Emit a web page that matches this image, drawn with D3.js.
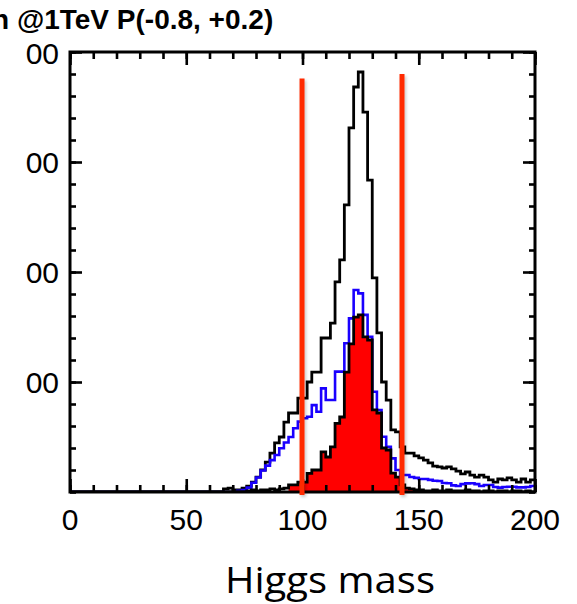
<!DOCTYPE html>
<html><head><meta charset="utf-8">
<script src="https://cdn.jsdelivr.net/npm/d3@7"></script>
<style>html,body{margin:0;padding:0;background:#fff;overflow:hidden}</style>
</head><body>
<svg id="c" width="577" height="604"></svg>
<script>
// ---- data (2 GeV bins, 0..200) ----
const binWidth = 2;
const titleText = "n @1TeV P(-0.8, +0.2)";
const xLabel = "Higgs mass";
const xTickValues = [0, 50, 100, 150, 200];
const xTickLabels = ["0", "50", "100", "150", "200"];
const yTickValues = [500, 1000, 1500, 2000];
const yTickLabels = ["00", "00", "00", "00"];   // as visible in the (cropped) reference
const cutLow = 99.8, cutHigh = 142.8;
const cutLowTop = 1880, cutHighTop = 1900, cutBottom = -14;
const fillRange = [94, 150];

const totalCounts = [
 0,0,0,0,0,0,0,0,0,0, 0,0,0,0,0,0,0,0,0,0, 0,0,0,0,0,0,0,0,0,0, 0,0,0,14,18,9,9,18,27,45,
 68,100,136,177,223,250,318,359,359,427, 427,500,545,545,700,700,768,955,1055,1305,
 1655,1841,1909,1727,1418,973,723,500,418,282, 273,205,177,177,164,155,145,132,118,114,
 109,114,105,95,82,91,77,68,77,68, 55,45,59,55,64,55,45,59,45,55];
const blueCounts = [
 0,0,0,0,0,0,0,0,0,0, 0,0,0,0,0,0,0,0,0,0, 0,0,0,0,0,0,0,0,0,0, 0,0,0,0,0,0,5,9,20,42,
 66,98,120,145,168,199,225,250,290,320, 335,342,395,365,471,418,418,547,547,676,
 789,918,903,805,706,456,373,251,206,153, 100,77,77,68,64,59,59,55,51,50,
 41,40,30,27,36,39,40,36,27,32, 32,23,20,23,24,24,21,21,23,27];
const signalCounts = [
 0,0,0,0,0,0,0,0,0,0, 0,0,0,0,0,0,0,0,0,0, 0,0,0,0,0,0,0,0,0,0, 0,0,0,0,0,0,0,0,5,9,
 5,9,9,14,9,14,18,32,32,45, 45,85,100,100,182,159,205,312,341,545,
 673,795,805,705,691,373,359,200,191,86, 68,32,18,14,9,9,5,5,9,5,
 5,9,5,5,5,9,5,5,0,5, 5,0,5,5,0,5,5,0,5,0];

// ---- layout ----
const svg = d3.select("#c");
const L = 70, R = 535, T = 52, B = 492;
const x = d3.scaleLinear().domain([0, 200]).range([L, R]);
const y = d3.scaleLinear().domain([0, 2000]).range([B, T]);

const defs = svg.append("defs");
defs.append("clipPath").attr("id", "plotclip").append("rect")
  .attr("x", L).attr("y", T).attr("width", R - L).attr("height", B - T);
const f = defs.append("filter").attr("id", "shadow").attr("filterUnits", "userSpaceOnUse")
  .attr("x", 0).attr("y", 0).attr("width", 577).attr("height", 604);
f.append("feDropShadow").attr("dx", 1.5).attr("dy", 2).attr("stdDeviation", 1.8)
  .attr("flood-color", "#000").attr("flood-opacity", 0.22);

function pts(arr) {
  const p = arr.map((v, i) => [i * binWidth, v]);
  p.push([arr.length * binWidth, arr[arr.length - 1]]);
  return p;
}
const line = d3.line().x(d => x(d[0])).y(d => y(d[1])).curve(d3.curveStepAfter);
const area = d3.area().x(d => x(d[0])).y0(y(0)).y1(d => y(d[1])).curve(d3.curveStepAfter);

const g = svg.append("g").attr("clip-path", "url(#plotclip)");

// total (black)
g.append("path").attr("d", line(pts(totalCounts)))
  .attr("fill", "none").attr("stroke", "#000").attr("stroke-width", 2.8);
// blue
g.append("path").attr("d", line(pts(blueCounts)))
  .attr("fill", "none").attr("stroke", "#1a00ff").attr("stroke-width", 2.6);
// red filled signal inside the window
const fillPts = signalCounts.map((v, i) => [i * binWidth, v])
  .filter(d => d[0] >= fillRange[0] && d[0] < fillRange[1]);
fillPts.push([fillRange[1], fillPts[fillPts.length - 1][1]]);
g.append("path").attr("d", area(fillPts)).attr("fill", "#ff0000");
// signal outline
g.append("path").attr("d", line(pts(signalCounts)))
  .attr("fill", "none").attr("stroke", "#000").attr("stroke-width", 2.8);

// ---- frame and ticks ----
const xMinor = d3.range(0, 201, 10);
const yMinor = d3.range(0, 2001, 100);
function styleAxis(sel) {
  sel.select(".domain").remove();
  sel.selectAll("line").attr("stroke", "#000").attr("stroke-width", 2.6);
  sel.selectAll("text").remove();
}
svg.append("g").attr("transform", `translate(0,${B})`).call(d3.axisBottom(x).tickValues(xMinor).tickSize(-7)).call(styleAxis);
svg.append("g").attr("transform", `translate(0,${B})`).call(d3.axisBottom(x).tickValues(xTickValues).tickSize(-13)).call(styleAxis);
svg.append("g").attr("transform", `translate(0,${T})`).call(d3.axisTop(x).tickValues(xMinor).tickSize(-7)).call(styleAxis);
svg.append("g").attr("transform", `translate(0,${T})`).call(d3.axisTop(x).tickValues(xTickValues).tickSize(-13)).call(styleAxis);
svg.append("g").attr("transform", `translate(${L},0)`).call(d3.axisLeft(y).tickValues(yMinor).tickSize(-6)).call(styleAxis);
svg.append("g").attr("transform", `translate(${L},0)`).call(d3.axisLeft(y).tickValues(yTickValues).tickSize(-12)).call(styleAxis);
svg.append("g").attr("transform", `translate(${R},0)`).call(d3.axisRight(y).tickValues(yMinor).tickSize(-6)).call(styleAxis);
svg.append("g").attr("transform", `translate(${R},0)`).call(d3.axisRight(y).tickValues(yTickValues).tickSize(-12)).call(styleAxis);

svg.append("rect").attr("x", L).attr("y", T).attr("width", R - L).attr("height", B - T)
  .attr("fill", "none").attr("stroke", "#000").attr("stroke-width", 3);

// ---- cut lines ----
const cuts = [[cutLow, cutLowTop], [cutHigh, cutHighTop]];
svg.append("g").attr("filter", "url(#shadow)").selectAll("line").data(cuts).join("line")
  .attr("x1", d => x(d[0])).attr("x2", d => x(d[0]))
  .attr("y1", d => y(d[1])).attr("y2", y(cutBottom))
  .attr("stroke", "#ff2a00").attr("stroke-width", 5);

// ---- labels ----
svg.append("g").selectAll("text").data(xTickValues).join("text")
  .attr("x", d => x(d)).attr("y", 530).attr("text-anchor", "middle")
  .attr("font-family", "Liberation Sans, Arial, sans-serif").attr("font-size", 30)
  .text((d, i) => xTickLabels[i]);
svg.append("g").selectAll("text").data(yTickValues).join("text")
  .attr("x", 59).attr("y", d => Math.max(y(d) + 11, 64)).attr("text-anchor", "end")
  .attr("font-family", "Liberation Sans, Arial, sans-serif").attr("font-size", 30)
  .text((d, i) => yTickLabels[i]);
svg.append("text").attr("x", -8).attr("y", 29)
  .attr("font-family", "Liberation Sans, Arial, sans-serif").attr("font-weight", "bold").attr("font-size", 28)
  .text(titleText);
svg.append("text").attr("x", 330).attr("y", 593).attr("text-anchor", "middle")
  .attr("font-family", "Open Sans, sans-serif").attr("font-size", 37)
  .attr("textLength", 210).attr("lengthAdjust", "spacingAndGlyphs")
  .text(xLabel);
</script>
</body></html>
